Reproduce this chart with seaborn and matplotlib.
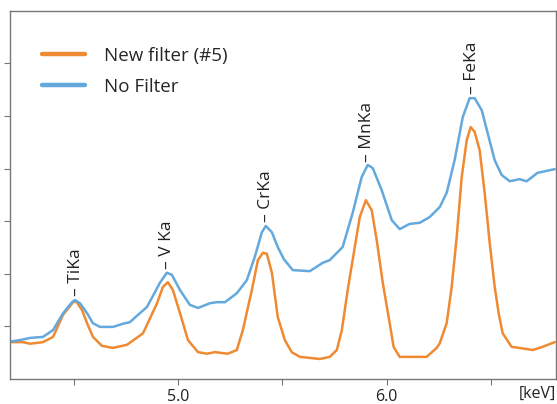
import numpy as np
import pandas as pd
import seaborn as sns
import matplotlib.pyplot as plt

sns.set_style("ticks")
plt.rcParams["font.family"] = ["Open Sans", "DejaVu Sans"]

# spectra (energy in keV, intensity in arbitrary units)
nofilter_kev = [4.196, 4.244, 4.292, 4.354, 4.402, 4.450, 4.493, 4.507, 4.531, 4.565,
                4.593, 4.627, 4.689, 4.737, 4.770, 4.809, 4.852, 4.914, 4.947, 4.971,
                5.010, 5.057, 5.096, 5.153, 5.187, 5.225, 5.282, 5.330, 5.368, 5.402,
                5.421, 5.450, 5.478, 5.507, 5.550, 5.632, 5.694, 5.727, 5.789, 5.837,
                5.880, 5.909, 5.933, 5.976, 6.024, 6.062, 6.110, 6.158, 6.206, 6.254,
                6.287, 6.325, 6.364, 6.397, 6.421, 6.455, 6.483, 6.517, 6.550, 6.589,
                6.636, 6.670, 6.722, 6.804]
nofilter_int = [0.71, 0.74, 0.78, 0.80, 0.93, 1.25, 1.46, 1.50, 1.44, 1.25,
                1.06, 0.99, 0.99, 1.05, 1.08, 1.22, 1.37, 1.83, 2.02, 1.98,
                1.69, 1.41, 1.35, 1.44, 1.46, 1.46, 1.63, 1.88, 2.32, 2.79,
                2.91, 2.79, 2.51, 2.28, 2.07, 2.05, 2.21, 2.26, 2.51, 3.16,
                3.84, 4.07, 4.01, 3.59, 3.02, 2.85, 2.95, 2.97, 3.08, 3.27,
                3.54, 4.16, 4.98, 5.34, 5.34, 5.11, 4.68, 4.16, 3.88, 3.76,
                3.80, 3.76, 3.92, 3.99]

newfilter_kev = [4.196, 4.258, 4.292, 4.354, 4.402, 4.450, 4.498, 4.512, 4.541, 4.565,
                 4.593, 4.636, 4.689, 4.756, 4.809, 4.833, 4.900, 4.928, 4.952, 4.976,
                 5.010, 5.048, 5.096, 5.139, 5.177, 5.239, 5.282, 5.311, 5.354, 5.383,
                 5.407, 5.426, 5.450, 5.478, 5.512, 5.545, 5.584, 5.679, 5.727, 5.761,
                 5.785, 5.813, 5.847, 5.871, 5.900, 5.928, 5.952, 5.981, 6.014, 6.033,
                 6.062, 6.144, 6.191, 6.239, 6.254, 6.287, 6.311, 6.335, 6.359, 6.383,
                 6.402, 6.421, 6.445, 6.469, 6.493, 6.517, 6.536, 6.555, 6.598, 6.636,
                 6.699, 6.746, 6.804]
newfilter_int = [0.70, 0.70, 0.67, 0.70, 0.80, 1.22, 1.46, 1.48, 1.31, 1.06,
                 0.80, 0.63, 0.59, 0.65, 0.80, 0.87, 1.44, 1.75, 1.84, 1.69,
                 1.25, 0.74, 0.51, 0.48, 0.51, 0.48, 0.55, 0.93, 1.69, 2.26,
                 2.40, 2.38, 2.02, 1.18, 0.74, 0.51, 0.42, 0.38, 0.42, 0.55,
                 0.93, 1.69, 2.51, 3.08, 3.40, 3.21, 2.64, 1.83, 1.06, 0.61,
                 0.42, 0.42, 0.42, 0.59, 0.68, 1.06, 1.75, 2.70, 3.84, 4.54,
                 4.79, 4.70, 4.35, 3.54, 2.59, 1.75, 1.25, 0.87, 0.61, 0.59,
                 0.55, 0.61, 0.70]

line_names = ["TiKa", "V Ka", "CrKa", "MnKa", "FeKa"]
line_kev = [4.51, 4.95, 5.42, 5.905, 6.41]

fig = plt.figure(figsize=(5.57, 4.04), dpi=100)
ax = fig.add_axes([0.018, 0.062, 0.98, 0.911])

sns.lineplot(x=newfilter_kev, y=newfilter_int, ax=ax, color="#ef8a33", linewidth=1.8,
             label="New filter (#5)")
sns.lineplot(x=nofilter_kev, y=nofilter_int, ax=ax, color="#64a9dd", linewidth=1.8,
             label="No Filter")

for name, kev in zip(line_names, line_kev):
    top = np.interp(kev, nofilter_kev, nofilter_int)
    ax.annotate("– " + name, (kev, top), xytext=(0, 3), textcoords="offset points",
                rotation=90, ha="center", va="bottom", fontsize=12.5, color="#222222")

ax.set_xlim(4.196, 6.81)
ax.set_ylim(0, 7)
ax.set_xticks([4.5, 5.0, 5.5, 6.0, 6.5])
ax.set_xticklabels(["", "5.0", "", "6.0", ""])
ax.set_yticks([1, 2, 3, 4, 5, 6])
ax.set_yticklabels([])
ax.tick_params(axis="x", labelsize=11.5, length=4, color="#777777", labelcolor="#222222", pad=3)
ax.tick_params(axis="y", length=4, color="#777777")
for side in ["top", "right", "bottom", "left"]:
    ax.spines[side].set_visible(True)
    ax.spines[side].set_color("#777777")
    ax.spines[side].set_linewidth(1.0)

ax.text(1.0, -0.018, "[keV]", transform=ax.transAxes, ha="right", va="top",
        fontsize=11.5, color="#222222")

leg = ax.legend(loc="upper left", bbox_to_anchor=(0.028, 0.948), frameon=False,
                fontsize=13.5, handlelength=2.3, handletextpad=1.0, labelspacing=0.68)
for h in leg.get_lines():
    h.set_linewidth(3.2)

fig.savefig("out.png", dpi=100)
